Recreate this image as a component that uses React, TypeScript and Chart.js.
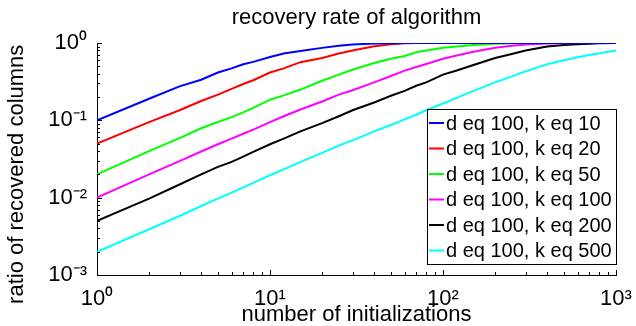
import { useEffect, useRef } from 'react';
import { Chart, registerables } from 'chart.js';

Chart.register(...registerables);

// number of initializations (x values)
const initializations = [1, 2, 3, 4, 5, 6, 7, 8, 10, 12, 15, 20, 25, 30, 40, 50, 60, 70, 80, 100, 120, 150, 200, 250, 300, 400, 500, 600, 700, 800, 1000];

const seriesLabels = [
  'd eq 100, k eq 10',
  'd eq 100, k eq 20',
  'd eq 100, k eq 50',
  'd eq 100, k eq 100',
  'd eq 100, k eq 200',
  'd eq 100, k eq 500',
];
const seriesColors = ['#0000ff', '#ff0000', '#00ff00', '#ff00ff', '#000000', '#00ffff'];

const recoveryK10 = [0.10, 0.19, 0.275, 0.335, 0.415, 0.47, 0.53, 0.57, 0.66, 0.73, 0.79, 0.865, 0.92, 0.955, 0.985, 0.995, 1, 1, 1, 1, 1, 1, 1, 1, 1, 1, 1, 1, 1, 1, 1];
const recoveryK20 = [0.05, 0.095, 0.135, 0.178, 0.215, 0.255, 0.295, 0.33, 0.415, 0.47, 0.565, 0.64, 0.73, 0.80, 0.905, 0.965, 0.99, 1, 1, 1, 1, 1, 1, 1, 1, 1, 1, 1, 1, 1, 1];
const recoveryK50 = [0.02, 0.04, 0.059, 0.079, 0.095, 0.11, 0.127, 0.145, 0.185, 0.21, 0.25, 0.325, 0.39, 0.45, 0.55, 0.625, 0.68, 0.76, 0.80, 0.87, 0.90, 0.94, 0.975, 0.99, 1, 1, 1, 1, 1, 1, 1];
const recoveryK100 = [0.01, 0.02, 0.0297, 0.0395, 0.049, 0.058, 0.067, 0.076, 0.095, 0.113, 0.138, 0.175, 0.215, 0.245, 0.31, 0.375, 0.44, 0.49, 0.535, 0.625, 0.69, 0.77, 0.87, 0.92, 0.955, 0.985, 0.995, 1, 1, 1, 1];
const recoveryK200 = [0.005, 0.0097, 0.0148, 0.02, 0.025, 0.029, 0.034, 0.039, 0.049, 0.058, 0.072, 0.092, 0.113, 0.135, 0.17, 0.208, 0.24, 0.28, 0.31, 0.39, 0.44, 0.52, 0.64, 0.72, 0.80, 0.90, 0.94, 0.965, 0.98, 0.99, 1];
const recoveryK500 = [0.002, 0.0039, 0.0058, 0.0078, 0.0097, 0.0116, 0.0136, 0.0155, 0.0195, 0.0232, 0.029, 0.038, 0.047, 0.055, 0.072, 0.087, 0.103, 0.118, 0.135, 0.165, 0.195, 0.24, 0.31, 0.37, 0.43, 0.53, 0.60, 0.655, 0.70, 0.735, 0.80];

const seriesValues = [recoveryK10, recoveryK20, recoveryK50, recoveryK100, recoveryK200, recoveryK500];

const xMajorTicks = [1, 10, 100, 1000];
const xTickLabels = ['10⁰', '10¹', '10²', '10³'];
const yMajorTicks = [0.001, 0.01, 0.1, 1];
const yTickLabels = ['10⁻³', '10⁻²', '10⁻¹', '10⁰'];
const minorSteps = [2, 3, 4, 5, 6, 7, 8, 9];

const FONT = '"Liberation Sans", Arial, Helvetica, sans-serif';

function buildLogTicks(majors: number[]) {
  const out: { value: number; major: boolean }[] = [];
  majors.forEach((m, i) => {
    out.push({ value: m, major: true });
    if (i < majors.length - 1) minorSteps.forEach((s) => out.push({ value: m * s, major: false }));
  });
  return out;
}

function labelFor(majors: number[], labels: string[]) {
  return (value: number) => {
    const i = majors.findIndex((m) => Math.abs(m - value) < m * 1e-6);
    return i >= 0 ? labels[i] : '';
  };
}

const inwardTicks = {
  id: 'inwardTicks',
  afterDraw(chart: any) {
    const { ctx, chartArea, scales } = chart;
    ctx.save();
    ctx.strokeStyle = '#000';
    ctx.lineWidth = 1;
    scales.x.ticks.forEach((t: any) => {
      const px = Math.round(scales.x.getPixelForValue(t.value)) + 0.5;
      const len = t.major ? 5 : 3;
      ctx.beginPath();
      ctx.moveTo(px, chartArea.bottom);
      ctx.lineTo(px, chartArea.bottom - len);
      ctx.stroke();
    });
    scales.y.ticks.forEach((t: any) => {
      const py = Math.round(scales.y.getPixelForValue(t.value)) + 0.5;
      const len = t.major ? 5 : 3;
      ctx.beginPath();
      ctx.moveTo(chartArea.left, py);
      ctx.lineTo(chartArea.left + len, py);
      ctx.stroke();
    });
    ctx.restore();
  },
};

const insetLegend = {
  id: 'insetLegend',
  afterDatasetsDraw(chart: any) {
    const { ctx, chartArea } = chart;
    const ds = chart.data.datasets;
    ctx.save();
    ctx.font = `20px ${FONT}`;
    const textW = Math.max(...ds.map((d: any) => ctx.measureText(d.label).width));
    const rowH = 25.5;
    const sample = 15;
    const padL = 2;
    const gap = 2;
    const padR = 4;
    const w = Math.round(padL + sample + gap + textW + padR);
    const h = Math.round(rowH * ds.length + 2);
    const right = chartArea.right;
    const bottom = chartArea.bottom - 11;
    const left = Math.round(right - w);
    const top = Math.round(bottom - h);
    ctx.fillStyle = '#fff';
    ctx.fillRect(left, top, w, h);
    ctx.strokeStyle = '#000';
    ctx.lineWidth = 1;
    ctx.strokeRect(left + 0.5, top + 0.5, w, h);
    ds.forEach((d: any, i: number) => {
      const cy = top + 14 + i * rowH;
      ctx.strokeStyle = d.borderColor;
      ctx.lineWidth = 2;
      ctx.beginPath();
      ctx.moveTo(left + padL, cy);
      ctx.lineTo(left + padL + sample, cy);
      ctx.stroke();
      ctx.fillStyle = '#000';
      ctx.textBaseline = 'middle';
      ctx.textAlign = 'left';
      ctx.fillText(d.label, left + padL + sample + gap, cy + 1);
    });
    ctx.restore();
  },
};

export default function App() {
  const canvasRef = useRef<HTMLCanvasElement | null>(null);

  useEffect(() => {
    if (!canvasRef.current) return;
    const datasets = seriesValues.map((vals, i) => ({
      label: seriesLabels[i],
      data: initializations.map((x, j) => ({ x, y: vals[j] })),
      borderColor: seriesColors[i],
      backgroundColor: seriesColors[i],
      borderWidth: 2,
      pointRadius: 0,
      tension: 0,
      fill: false,
    }));

    const chart = new Chart(canvasRef.current, {
      type: 'line',
      data: { datasets },
      plugins: [inwardTicks, insetLegend],
      options: {
        animation: false,
        responsive: false,
        devicePixelRatio: 1,
        layout: { padding: { left: 0, right: 20, top: 0, bottom: 0 } },
        font: { family: FONT },
        plugins: {
          legend: { display: false },
          tooltip: { enabled: false },
          title: {
            display: true,
            fullSize: false,
            text: 'recovery rate of algorithm',
            color: '#000',
            font: { family: FONT, size: 22, weight: 'normal', lineHeight: 1.2 },
            padding: { top: 4.5, bottom: 12.1 },
          },
        },
        scales: {
          x: {
            type: 'logarithmic',
            min: 1,
            max: 1000,
            afterBuildTicks: (scale: any) => {
              scale.ticks = buildLogTicks(xMajorTicks);
            },
            afterFit: (scale: any) => {
              scale.height = 51;
              scale.paddingLeft = 0;
              scale.paddingRight = 0;
            },
            grid: { display: false, drawTicks: false },
            border: { display: true, color: '#000', width: 1 },
            ticks: {
              autoSkip: false,
              maxRotation: 0,
              minRotation: 0,
              padding: 11,
              color: '#000',
              font: { family: FONT, size: 22 },
              callback: labelFor(xMajorTicks, xTickLabels),
            },
            title: {
              display: true,
              text: 'number of initializations',
              color: '#000',
              font: { family: FONT, size: 22, lineHeight: 1 },
              padding: { top: 0, bottom: 0 },
            },
          },
          y: {
            type: 'logarithmic',
            min: 0.001,
            max: 1,
            afterBuildTicks: (scale: any) => {
              scale.ticks = buildLogTicks(yMajorTicks);
            },
            afterFit: (scale: any) => {
              scale.width = 97;
              scale.paddingTop = 0;
              scale.paddingBottom = 0;
            },
            grid: { display: false, drawTicks: false },
            border: { display: true, color: '#000', width: 1 },
            ticks: {
              autoSkip: false,
              padding: 10,
              color: '#000',
              font: { family: FONT, size: 22 },
              callback: labelFor(yMajorTicks, yTickLabels),
            },
            title: {
              display: true,
              text: 'ratio of recovered columns     ',
              color: '#000',
              font: { family: FONT, size: 22, lineHeight: 1 },
              padding: { top: 6, bottom: 0 },
            },
          },
        },
      },
    } as any);

    return () => chart.destroy();
  }, []);

  return (
    <div style={{ position: 'fixed', left: 0, top: 0, width: 636, height: 326, background: '#fff' }}>
      <canvas ref={canvasRef} width={636} height={326} style={{ display: 'block', width: 636, height: 326 }} />
    </div>
  );
}
